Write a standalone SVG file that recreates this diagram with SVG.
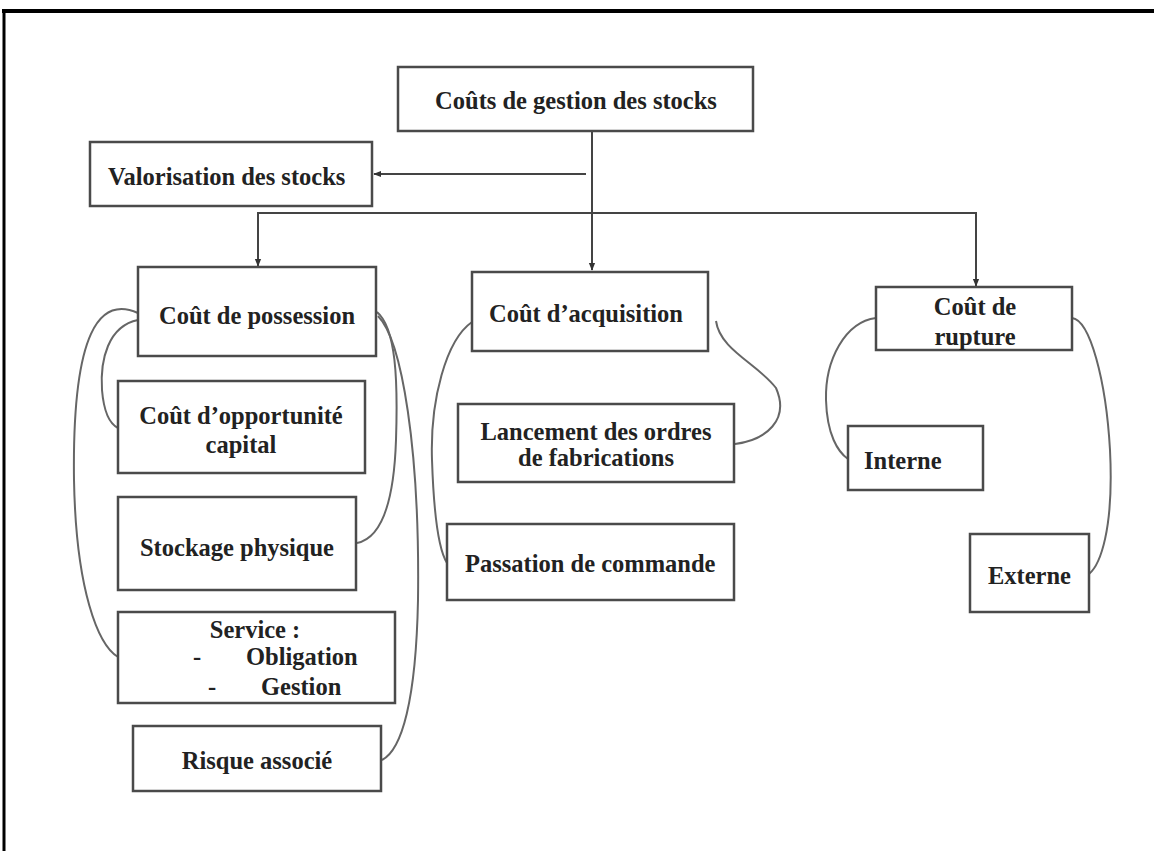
<svg xmlns="http://www.w3.org/2000/svg" width="1154" height="851" viewBox="0 0 1154 851">
<style>
.box{fill:#fff;stroke:#4a4a4a;stroke-width:2.5}
.t{font-family:"Liberation Serif","Times New Roman",serif;font-weight:bold;font-size:24.5px;fill:#222}
.m{text-anchor:middle}
.ln{fill:none;stroke:#444;stroke-width:2}
.cv{fill:none;stroke:#666;stroke-width:2}
</style>
<defs>
<marker id="ah" viewBox="0 0 10 10" refX="9" refY="5" markerWidth="8" markerHeight="8" orient="auto" markerUnits="userSpaceOnUse">
<path d="M0,1 L10,5 L0,9 Z" fill="#333"/>
</marker>
</defs>
<rect width="1154" height="851" fill="#fff"/>
<g id="frame">
<line x1="2" y1="11" x2="1154" y2="11" stroke="#000" stroke-width="4"/>
<line x1="4" y1="9" x2="4" y2="851" stroke="#000" stroke-width="3"/>
</g>
<g id="connectors">
<line class="ln" x1="592" y1="131" x2="592" y2="270" marker-end="url(#ah)"/>
<line class="ln" x1="586" y1="174" x2="374" y2="174" marker-end="url(#ah)"/>
<polyline class="ln" points="258,266 258,213 976,213 976,286" marker-end="url(#ah)"/>
<line class="ln" x1="258" y1="215" x2="258" y2="266" marker-end="url(#ah)"/>
<path class="cv" d="M138,313 C100,296 72,330 74,480 C76,590 98,645 118,657"/>
<path class="cv" d="M138,320 C108,326 100,360 102,390 C104,414 110,424 118,428"/>
<path class="cv" d="M377,312 C396,328 398,380 396,440 C394,500 382,538 357,543"/>
<path class="cv" d="M378,316 C402,340 420,450 418,600 C416,700 402,750 382,760"/>
<path class="cv" d="M472,322 C446,340 430,400 432,460 C434,520 440,552 447,563"/>
<path class="cv" d="M716,321 C720,350 758,364 776,388 C790,420 766,440 735,444"/>
<path class="cv" d="M876,318 C845,322 825,360 826,400 C827,435 838,452 848,459"/>
<path class="cv" d="M1072,318 C1090,320 1106,380 1110,450 C1114,530 1100,565 1089,574"/>
</g>
<g id="n-root"><rect class="box" x="398" y="67" width="355" height="64"/><text class="t m" x="576" y="109">Coûts de gestion des stocks</text></g>
<g id="n-valorisation"><rect class="box" x="90" y="142" width="282" height="64"/><text class="t" x="108" y="185">Valorisation des stocks</text></g>
<g id="n-possession"><rect class="box" x="138" y="267" width="238" height="89"/><text class="t m" x="257" y="324">Coût de possession</text></g>
<g id="n-acquisition"><rect class="box" x="472" y="272" width="236" height="79"/><text class="t m" x="586" y="322">Coût d’acquisition</text></g>
<g id="n-rupture"><rect class="box" x="876" y="287" width="196" height="63"/><text class="t m" x="975" y="315">Coût de</text><text class="t m" x="975" y="345">rupture</text></g>
<g id="n-opportunite"><rect class="box" x="118" y="381" width="247" height="92"/><text class="t m" x="241" y="424">Coût d’opportunité</text><text class="t m" x="241" y="453">capital</text></g>
<g id="n-stockage"><rect class="box" x="118" y="497" width="238" height="93"/><text class="t m" x="237" y="556">Stockage physique</text></g>
<g id="n-service"><rect class="box" x="118" y="612" width="277" height="91"/><text class="t m" x="255" y="638">Service :</text><text class="t" x="193" y="665">-</text><text class="t" x="246" y="665">Obligation</text><text class="t" x="208" y="695">-</text><text class="t" x="261" y="695">Gestion</text></g>
<g id="n-risque"><rect class="box" x="133" y="726" width="248" height="65"/><text class="t m" x="257" y="769">Risque associé</text></g>
<g id="n-lancement"><rect class="box" x="458" y="404" width="276" height="78"/><text class="t m" x="596" y="440">Lancement des ordres</text><text class="t m" x="596" y="466">de fabrications</text></g>
<g id="n-passation"><rect class="box" x="447" y="524" width="287" height="76"/><text class="t" x="465" y="572">Passation de commande</text></g>
<g id="n-interne"><rect class="box" x="848" y="426" width="135" height="64"/><text class="t" x="864" y="469">Interne</text></g>
<g id="n-externe"><rect class="box" x="970" y="534" width="119" height="78"/><text class="t" x="988" y="584">Externe</text></g>
</svg>
